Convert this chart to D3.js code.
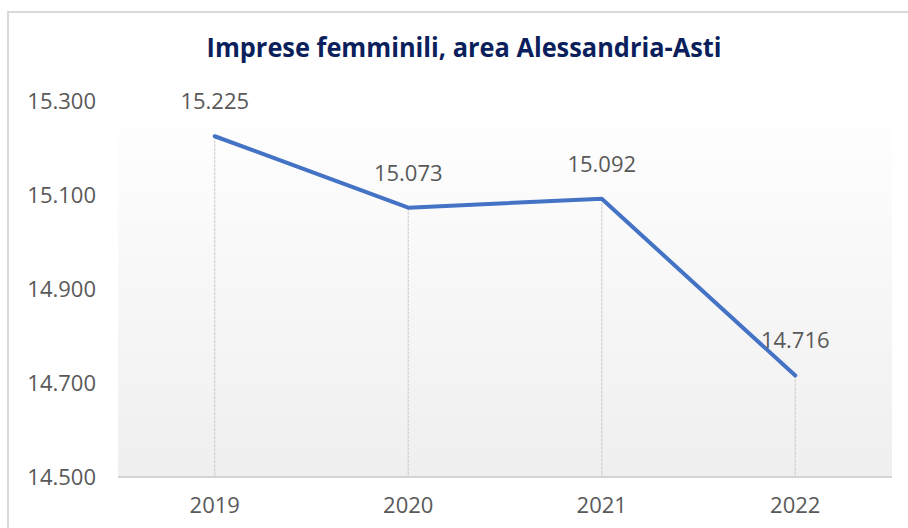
<!DOCTYPE html>
<html>
<head>
<meta charset="utf-8">
<script src="https://cdn.jsdelivr.net/npm/d3@7"></script>
<style>
  html, body { margin: 0; padding: 0; background: #fff; }
  svg { display: block; font-family: "Open Sans", "Noto Sans", sans-serif; }
</style>
</head>
<body>
<svg id="chart" width="908" height="528"></svg>
<script>
const title = "Imprese femminili, area Alessandria-Asti";
const years = ["2019", "2020", "2021", "2022"];
const imprese = [15225, 15073, 15092, 14716];
const yTicks = [14500, 14700, 14900, 15100, 15300];

const fmt = v => d3.format(",.0f")(v).replace(/,/g, ".");

const svg = d3.select("#chart");
const m = { left: 118, right: 892, top: 101, bottom: 477 };

// chart frame
svg.append("rect")
    .attr("x", 8).attr("y", 12)
    .attr("width", 920).attr("height", 540)
    .attr("fill", "#fff")
    .attr("stroke", "#d9d9d9")
    .attr("stroke-width", 2);

const x = d3.scaleBand()
    .domain(years)
    .range([m.left, m.right]);

const y = d3.scaleLinear()
    .domain([14500, 15300])
    .range([m.bottom, m.top]);

// plot background gradient
const grad = svg.append("defs").append("linearGradient")
    .attr("id", "bg")
    .attr("x1", 0).attr("y1", 0).attr("x2", 0).attr("y2", 1);
grad.append("stop").attr("offset", "0%").attr("stop-color", "#ffffff");
grad.append("stop").attr("offset", "100%").attr("stop-color", "#efefef");

svg.append("rect")
    .attr("x", m.left).attr("y", m.top)
    .attr("width", m.right - m.left).attr("height", m.bottom - m.top)
    .attr("fill", "url(#bg)");

// title
svg.append("text")
    .attr("x", 464).attr("y", 57)
    .attr("text-anchor", "middle")
    .attr("font-size", 26)
    .attr("font-weight", "bold")
    .attr("fill", "#0a1f5c")
    .attr("textLength", 515)
    .attr("lengthAdjust", "spacingAndGlyphs")
    .text(title);

// y axis labels
svg.append("g")
  .selectAll("text")
  .data(yTicks)
  .enter().append("text")
    .attr("x", 96)
    .attr("y", d => y(d) + 7.5)
    .attr("text-anchor", "end")
    .attr("font-size", 22)
    .attr("fill", "#595959")
    .text(fmt);

// drop lines
const cx = d => x(d) + x.bandwidth() / 2;
svg.append("g")
  .selectAll("line")
  .data(years)
  .enter().append("line")
    .attr("x1", d => cx(d)).attr("x2", d => cx(d))
    .attr("y1", (d, i) => y(imprese[i]))
    .attr("y2", m.bottom)
    .attr("stroke", "#d0d0d0")
    .attr("stroke-width", 1.2)
    .attr("stroke-dasharray", "3,1");

// x axis line
svg.append("line")
    .attr("x1", m.left).attr("x2", m.right)
    .attr("y1", m.bottom).attr("y2", m.bottom)
    .attr("stroke", "#d4d4d4")
    .attr("stroke-width", 2);

// x labels
svg.append("g")
  .selectAll("text")
  .data(years)
  .enter().append("text")
    .attr("x", d => cx(d))
    .attr("y", m.bottom + 36)
    .attr("text-anchor", "middle")
    .attr("font-size", 22)
    .attr("fill", "#595959")
    .text(d => d);

// line
const line = d3.line()
    .x((d, i) => cx(years[i]))
    .y(d => y(d));

svg.append("path")
    .datum(imprese)
    .attr("d", line)
    .attr("fill", "none")
    .attr("stroke", "#4472c4")
    .attr("stroke-width", 4)
    .attr("stroke-linecap", "round")
    .attr("stroke-linejoin", "round");

// data labels
svg.append("g")
  .selectAll("text")
  .data(imprese)
  .enter().append("text")
    .attr("x", (d, i) => cx(years[i]))
    .attr("y", d => y(d) - 27)
    .attr("text-anchor", "middle")
    .attr("font-size", 22)
    .attr("fill", "#595959")
    .text(fmt);
</script>
</body>
</html>
